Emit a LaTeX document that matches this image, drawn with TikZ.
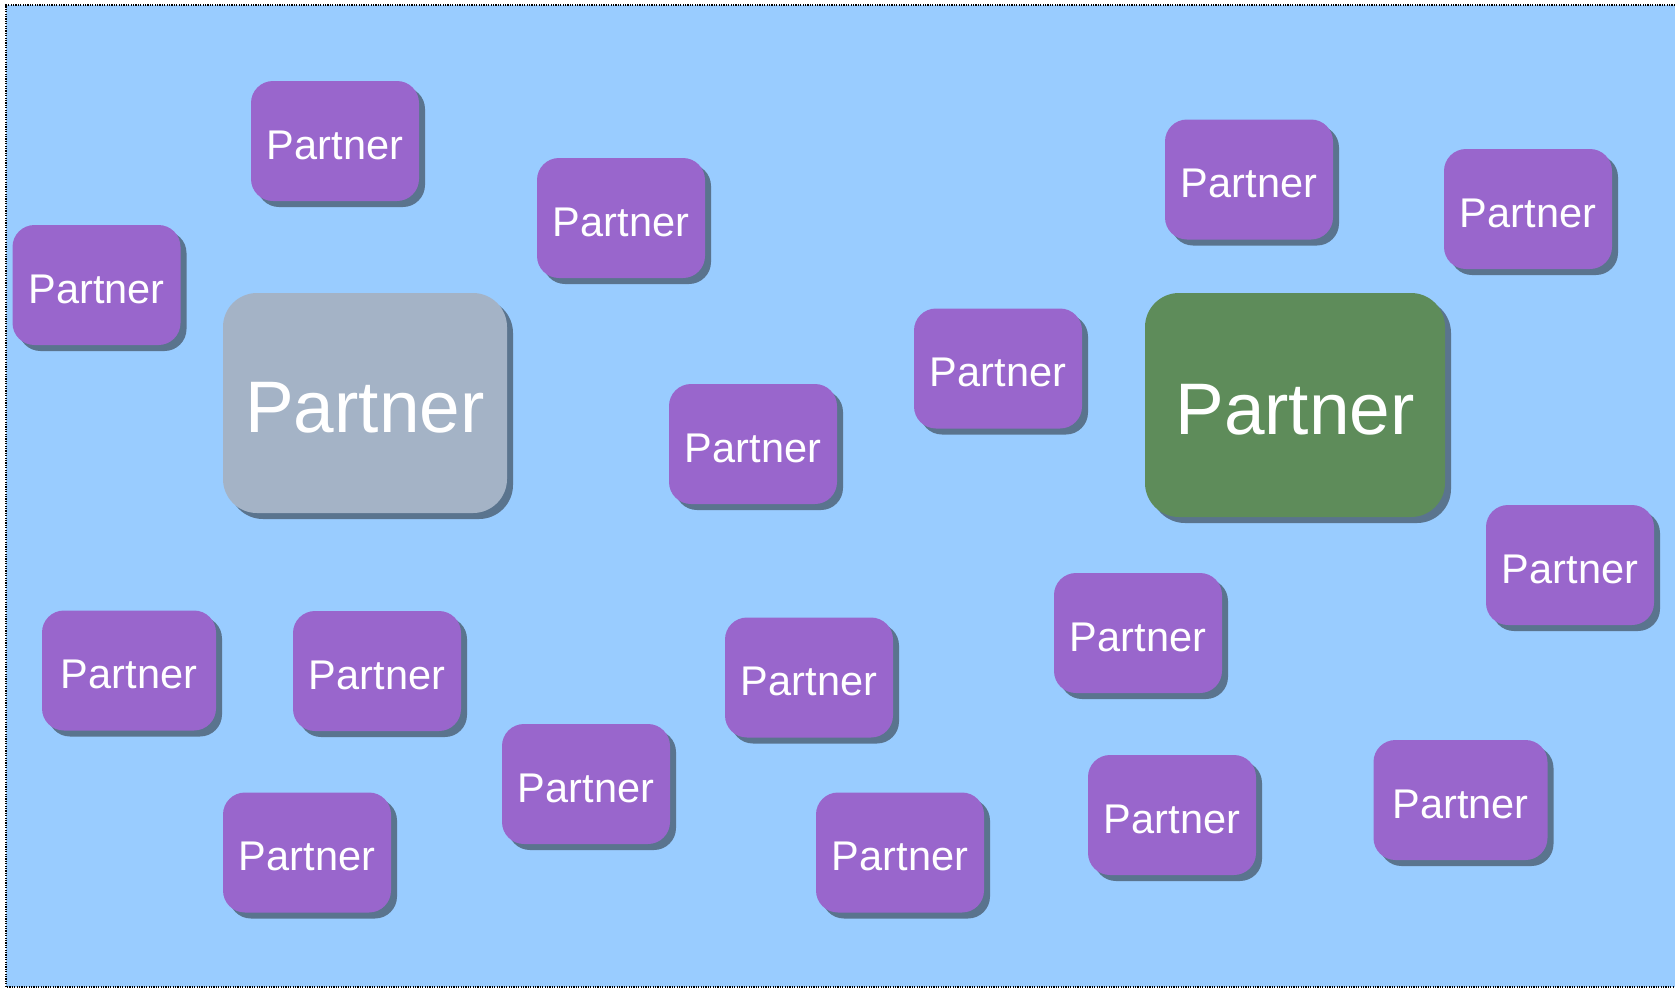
\documentclass[tikz,border=0pt]{standalone}
\usepackage{fontspec}
\setmainfont{Liberation Sans}
\usetikzlibrary{shadows}
\definecolor{bgblue}{HTML}{99CCFF}
\definecolor{purp}{HTML}{9966CC}
\definecolor{greybox}{HTML}{A4B3C6}
\definecolor{greenbox}{HTML}{5E8C5A}
\definecolor{shade}{RGB}{90,116,142}
\tikzset{
  boxbase/.style={rectangle, rounded corners=22pt, inner sep=0pt, text=white,
    drop shadow={shadow xshift=6pt, shadow yshift=-6pt, fill=shade, opacity=1}},
  small/.style={boxbase, fill=purp, minimum width=168pt, minimum height=120pt,
    text height=36pt, text depth=0pt, font=\fontsize{41.5}{48}\selectfont},
  wide/.style={small, minimum width=174pt},
  big/.style={boxbase, rounded corners=34pt, text height=59pt, text depth=0pt, font=\fontsize{73}{84}\selectfont},
}
\begin{document}
\begin{tikzpicture}[x=1pt,y=-1pt]
\useasboundingbox (0,0) rectangle (1675,989);
\fill[bgblue] (6,5) rectangle (1675,987);
\draw[line width=1.2pt, dash pattern=on 1.2pt off 1.2pt] (1675,5) -- (6,5) -- (6,987) -- (1675,987);
\node[small] (n1) at (335,141) {Partner};
\node[small] (n2) at (621,218) {Partner};
\node[small] (n3) at (96.5,285) {Partner};
\node[big, fill=greybox, minimum width=284pt, minimum height=220pt] (g) at (365,403) {Partner};
\node[small] (n5) at (753,444) {Partner};
\node[small] (n6) at (998,368.5) {Partner};
\node[big, fill=greenbox, minimum width=300pt, minimum height=224pt] (gr) at (1295,405) {Partner};
\node[small] (n8) at (1249,179.5) {Partner};
\node[small] (n9) at (1528,209) {Partner};
\node[small] (n10) at (1570,565) {Partner};
\node[small] (n11) at (1138,633) {Partner};
\node[wide] (n12) at (129,670.5) {Partner};
\node[small] (n13) at (377,671) {Partner};
\node[small] (n14) at (809,677.5) {Partner};
\node[small] (n15) at (586,784) {Partner};
\node[small] (n16) at (307,852.5) {Partner};
\node[small] (n17) at (900,852.5) {Partner};
\node[small] (n18) at (1172,815) {Partner};
\node[wide] (n19) at (1460.5,800) {Partner};
\end{tikzpicture}
\end{document}
